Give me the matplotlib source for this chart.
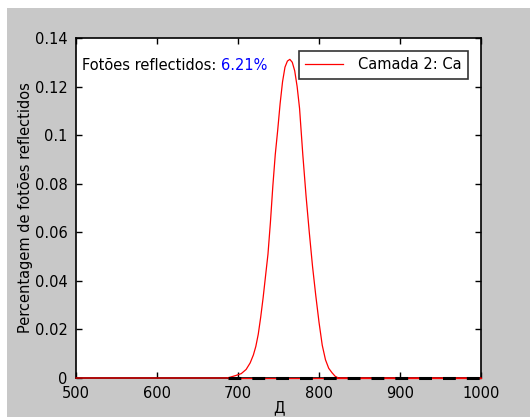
import matplotlib
matplotlib.use("Agg")
import matplotlib.pyplot as plt
from matplotlib.ticker import FormatStrFormatter
from matplotlib.patches import Rectangle

# Reflected-photon distribution for layer 2 (Ca), wavelength in angstrom
wavelength = [500, 686, 690, 697, 704, 710, 715, 719, 722, 725, 728, 731, 734,
              737, 740, 743, 746, 749, 752, 755, 758, 761, 764, 767, 770, 773,
              776, 780, 784, 788, 792, 796, 800, 804, 808, 812, 816, 820, 824,
              1000]
fraction = [0.0, 0.0, 0.0003, 0.0010, 0.0018, 0.0035, 0.0062, 0.0095, 0.0130,
            0.0180, 0.0250, 0.0330, 0.0420, 0.0510, 0.0640, 0.0790, 0.0920,
            0.1020, 0.1130, 0.1220, 0.1280, 0.1305, 0.1312, 0.1300, 0.1265,
            0.1200, 0.1110, 0.0920, 0.0750, 0.0600, 0.0460, 0.0340, 0.0230,
            0.0135, 0.0075, 0.0040, 0.0022, 0.0007, 0.0, 0.0]

# Second trace, flat at zero over the upper range
base_x = [688, 1000]
base_y = [0.0, 0.0]

series_label = "Camada 2: Ca"
caption = "Fotões reflectidos: "
total_pct = "6.21%"

xticks = [500, 600, 700, 800, 900, 1000]
yticks = [0, 0.02, 0.04, 0.06, 0.08, 0.1, 0.12, 0.14]

FS = 10.5
W, H = 530, 417
fig = plt.figure(figsize=(W / 100, H / 100), dpi=100, facecolor="white")

# grey window background, leaving a thin white margin on top and left
bg = fig.add_axes([0, 0, 1, 1], zorder=-10)
bg.set_axis_off()
bg.add_patch(Rectangle((7 / W, 0), 1 - 7 / W, 1 - 8 / H,
                       transform=bg.transAxes, facecolor="#c8c8c8",
                       edgecolor="none"))

ax = fig.add_axes([76 / W, 39 / H, 405 / W, 340 / H], zorder=1)
ax.set_facecolor("white")

ax.plot(wavelength, fraction, color="red", lw=0.9, label=series_label,
        zorder=3, clip_on=False)
ax.plot(base_x, base_y, color="black", lw=2.2, dashes=(4.2, 3.6),
        zorder=4, clip_on=False)
ax.plot(base_x, base_y, color="red", lw=0.9, zorder=3.5, clip_on=False)

ax.set_xlim(500, 1000)
ax.set_ylim(0, 0.14)
ax.set_xticks(xticks)
ax.set_yticks(yticks)
ax.yaxis.set_major_formatter(FormatStrFormatter("%g"))
ax.tick_params(direction="in", length=4, width=1, top=True, right=True,
               labelsize=FS, colors="black", pad=6)
for s in ax.spines.values():
    s.set_linewidth(1.2)
    s.set_color("black")

ax.set_ylabel("Percentagem de fotões reflectidos", fontsize=FS, labelpad=1)
ax.set_xlabel("Д", fontsize=FS, labelpad=-1)

t = ax.text(507, 0.1285, caption, fontsize=FS, color="black",
            ha="left", va="center")
ax.annotate(total_pct, xy=(1, 0.5), xycoords=t, xytext=(0, 0),
            textcoords="offset points", fontsize=FS, color="#0000ff",
            ha="left", va="center")

leg = ax.legend(loc="upper right", bbox_to_anchor=(0.968, 0.962),
                borderaxespad=0, fancybox=False, frameon=True,
                edgecolor="black", fontsize=FS, handlelength=2.6,
                handletextpad=1.0, borderpad=0.45)
leg.get_frame().set_linewidth(1.2)

fig.savefig("out.png", dpi=100, facecolor=fig.get_facecolor())
